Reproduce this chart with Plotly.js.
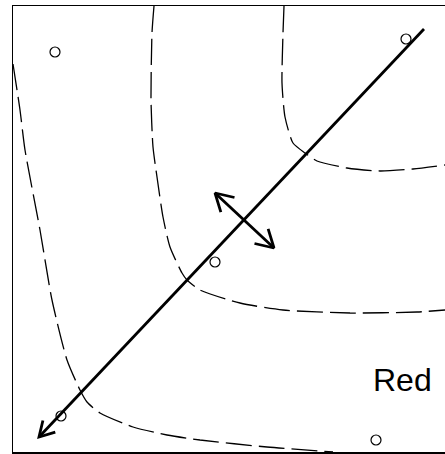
<!DOCTYPE html>
<html>
<head>
<meta charset="utf-8">
<script src="https://cdn.plot.ly/plotly-3.0.1.min.js"></script>
<style>
  html, body { margin: 0; padding: 0; background: #fff; }
  #plot { width: 445px; height: 454px; }
</style>
</head>
<body>
<div id="plot"></div>
<script>
// sample points
var ptX = [42, 393, 202, 48, 363];
var ptY = [400, 413, 190, 36, 12];

// dashed contours
var c1x = [0, 7, 12, 27, 39, 54, 67, 74, 87, 120, 154, 187, 254, 320];
var c1y = [388, 342, 302, 222, 152, 92, 62, 50, 39, 25, 17, 12, 5, 0];
var c2x = [141, 139, 138, 140, 144, 150, 157, 169, 174, 187, 227, 270, 337, 404, 432];
var c2y = [446, 419, 352, 305, 275, 235, 205, 179, 172, 162, 149, 142, 139, 140, 142];
var c3x = [271, 270, 269, 272, 280, 292, 304, 334, 367, 400, 432];
var c3y = [446, 419, 369, 335, 309, 299, 291, 284, 281, 283, 287];

// main axis arrow: tail -> head
var axisTail = [411, 423];
var axisHead = [26, 15];
// small double arrow
var dblA = [202, 259];
var dblB = [261, 204];

var label = "Red";
var labelPos = [389, 72];

function contour(xs, ys) {
  return {
    x: xs, y: ys, mode: "lines", type: "scatter",
    line: {color: "black", width: 1.3, dash: "26px,7px", shape: "spline", smoothing: 0.6},
    hoverinfo: "skip"
  };
}

function solid(xs, ys) {
  return {x: xs, y: ys, mode: "lines", type: "scatter",
          line: {color: "black", width: 2.8}, hoverinfo: "skip"};
}

// V-shaped arrow head at tip, pointing away from "from"
function head(tip, from, len) {
  var dx = from[0] - tip[0], dy = from[1] - tip[1];
  var a = Math.atan2(dy, dx), s = Math.PI / 6;
  return solid(
    [tip[0] + len * Math.cos(a + s), tip[0], tip[0] + len * Math.cos(a - s)],
    [tip[1] + len * Math.sin(a + s), tip[1], tip[1] + len * Math.sin(a - s)]
  );
}

var pts = {
  x: ptX, y: ptY, mode: "markers", type: "scatter",
  marker: {symbol: "circle-open", size: 10, color: "black", line: {width: 1.2, color: "black"}}
};

var data = [
  contour(c1x, c1y), contour(c2x, c2y), contour(c3x, c3y),
  solid([axisTail[0], axisHead[0]], [axisTail[1], axisHead[1]]),
  head(axisHead, axisTail, 17),
  solid([dblA[0], dblB[0]], [dblA[1], dblB[1]]),
  head(dblA, dblB, 20),
  head(dblB, dblA, 20),
  pts
];

var layout = {
  width: 445, height: 454,
  margin: {l: 13, r: 0, t: 6, b: 2},
  showlegend: false,
  paper_bgcolor: "white", plot_bgcolor: "white",
  xaxis: {range: [0, 432], showgrid: false, zeroline: false, showticklabels: false, ticks: "",
          showline: true, mirror: true, linecolor: "black", linewidth: 1.5},
  yaxis: {range: [0, 446], showgrid: false, zeroline: false, showticklabels: false, ticks: "",
          showline: true, linecolor: "black", linewidth: 1.5},
  annotations: [
    {x: labelPos[0], y: labelPos[1], xref: "x", yref: "y", text: label, showarrow: false,
     font: {family: "Liberation Sans, Arial, sans-serif", size: 32, color: "black"}}
  ]
};

Plotly.newPlot("plot", data, layout, {displayModeBar: false, staticPlot: true});
</script>
</body>
</html>
